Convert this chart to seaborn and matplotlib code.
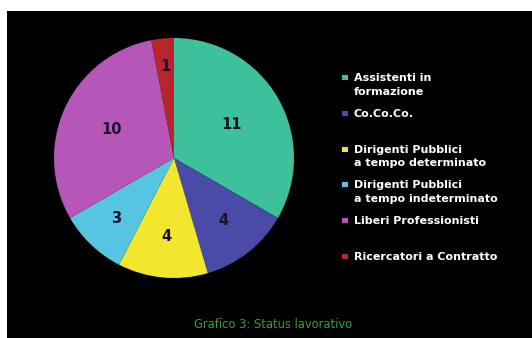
import numpy as np
import matplotlib
matplotlib.use("Agg")
import matplotlib.pyplot as plt
from matplotlib.patches import Rectangle
import seaborn as sns

# Data: job status of respondents
categories = [
    "Assistenti in\nformazione",
    "Co.Co.Co.",
    "Dirigenti Pubblici\na tempo determinato",
    "Dirigenti Pubblici\na tempo indeterminato",
    "Liberi Professionisti",
    "Ricercatori a Contratto",
]
counts = [11, 4, 4, 3, 10, 1]
slice_colors = ["#3dc09c", "#4a4aa8", "#f2e62e", "#56c6e0", "#b656b6", "#b8252e"]
title_text = "Grafico 3: Status lavorativo"

sns.set_theme(style="dark")
plt.rcParams["font.family"] = ["DejaVu Sans"]
palette = sns.color_palette(slice_colors)

W, H = 532, 338
fig = plt.figure(figsize=(W / 100, H / 100), dpi=100)
fig.patch.set_facecolor("white")

# black panel behind the chart
fig.patches.append(Rectangle((7 / W, 0), 1 - 7 / W, (H - 11) / H,
                             transform=fig.transFigure, facecolor="black",
                             edgecolor="none", zorder=-5))

cx, cy, r = 174, 158, 120
ax = fig.add_axes([(cx - r) / W, (H - cy - r) / H, 2 * r / W, 2 * r / H])
ax.set_zorder(1)
ax.set_facecolor("none")
wedges, _ = ax.pie(counts, colors=palette, startangle=90, counterclock=False,
                   radius=1.0, wedgeprops=dict(linewidth=0))
ax.set_xlim(-1, 1)
ax.set_ylim(-1, 1)
ax.set_aspect("equal")
ax.axis("off")

# value labels: wedge centroid, pushed outward for narrow wedges
for w, v in zip(wedges, counts):
    span = w.theta2 - w.theta1
    theta = np.deg2rad(span)
    mid = np.deg2rad((w.theta1 + w.theta2) / 2)
    d = max(4 * np.sin(theta / 2) / (3 * theta), 0.80 - 0.0032 * span)
    ax.text(d * np.cos(mid), d * np.sin(mid), str(v), ha="center", va="center",
            fontsize=10.5, fontweight="bold", color="#1c1030")

# legend column
lx_box, lx_text = 342, 354
top0, step = 73, 35.8
for i, (lab, col) in enumerate(zip(categories, palette)):
    ytop = top0 + i * step
    fig.patches.append(Rectangle((lx_box / W, 1 - (ytop + 7) / H), 6 / W, 5 / H,
                                 transform=fig.transFigure, facecolor=col,
                                 edgecolor="none", zorder=2))
    fig.text(lx_text / W, 1 - ytop / H, lab, ha="left", va="top",
             fontsize=8, fontweight="bold", color="white",
             linespacing=1.45, zorder=3)

fig.text(273 / W, 1 - 324 / H, title_text, ha="center", va="center",
         fontsize=8.3, color="#3c9c3c", zorder=3)

fig.savefig("out.png", dpi=100, facecolor=fig.get_facecolor())
